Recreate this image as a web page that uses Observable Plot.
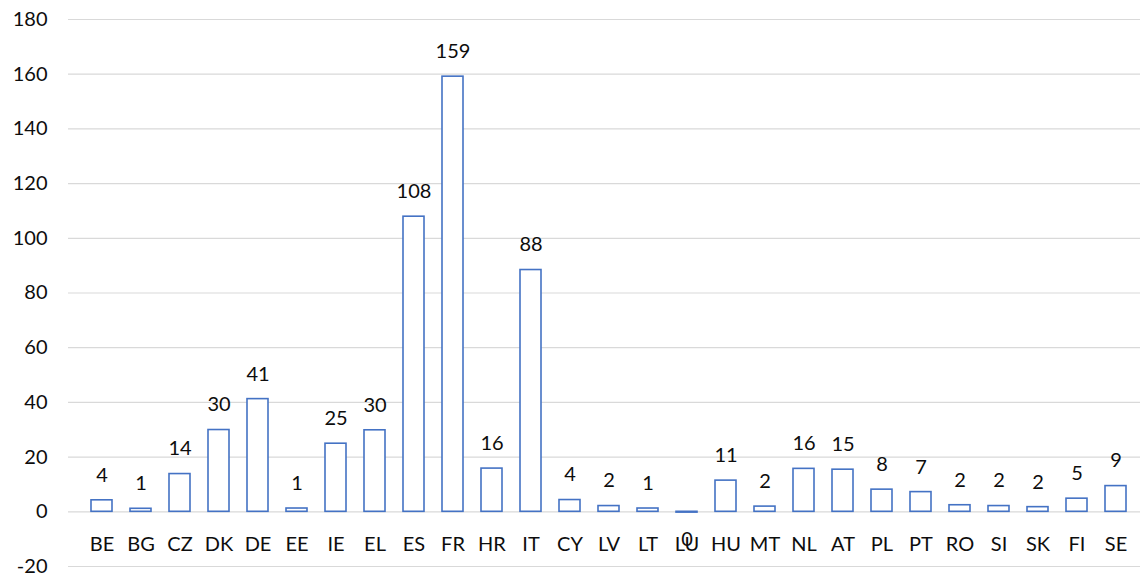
<!DOCTYPE html>
<html>
<head>
<meta charset="utf-8">
<script src="https://cdn.jsdelivr.net/npm/d3@7"></script>
<script src="https://cdn.jsdelivr.net/npm/@observablehq/plot@0.6"></script>
<style>
  html, body { margin: 0; padding: 0; background: #fff; overflow: hidden; }
  #chart { width: 1140px; height: 576px; overflow: hidden; }
</style>
</head>
<body>
<div id="chart"></div>
<script>
const countries = ["BE","BG","CZ","DK","DE","EE","IE","EL","ES","FR","HR","IT","CY","LV","LT","LU","HU","MT","NL","AT","PL","PT","RO","SI","SK","FI","SE"];
const values = [4.2, 1.1, 13.8, 29.9, 41.2, 1.2, 24.9, 29.8, 107.9, 159.1, 15.8, 88.4, 4.3, 2.1, 1.2, -0.3, 11.4, 1.9, 15.7, 15.4, 8.1, 7.2, 2.4, 2.1, 1.7, 4.8, 9.4];
const yTicks = [-20, 0, 20, 40, 60, 80, 100, 120, 140, 160, 180];

const data = countries.map((c, i) => ({
  country: c,
  value: values[i],
  label: String(Math.abs(Math.round(values[i])))
}));

const blue = "#4472C4";
const font = "Lato, 'Open Sans', sans-serif";
const ink = "#0d0d0d";

const plot = Plot.plot({
  width: 1140,
  height: 576,
  marginLeft: 68,
  marginRight: 0,
  marginTop: 19,
  marginBottom: 10,
  style: { fontFamily: font, fontSize: "20px", color: ink, background: "#fff", overflow: "hidden" },
  x: { type: "band", domain: countries, range: [68.8, 1147.5], paddingInner: 0.47, paddingOuter: 0.235, axis: null },
  y: { domain: [-20, 180], ticks: yTicks },
  marks: [
    Plot.ruleY(yTicks, { stroke: "#d9d9d9", strokeWidth: 1.2 }),
    Plot.barY(data, { x: "country", y: "value", fill: "#fff", stroke: blue, strokeWidth: 1.6 }),
    Plot.axisY(yTicks, { tickSize: 0, tickPadding: 21, label: null, fontSize: 20, tickFormat: d => String(d) }),
    Plot.text(data, { x: "country", y: 0, text: "country", dy: 33, lineAnchor: "middle", fontSize: 20, fill: ink }),
    Plot.text(data.filter(d => d.value >= 0), { x: "country", y: "value", text: "label", dy: -25, lineAnchor: "middle", fontSize: 20, fill: ink }),
    Plot.text(data.filter(d => d.value < 0), { x: "country", y: "value", text: "label", dy: 27, lineAnchor: "middle", fontSize: 20, fill: ink })
  ]
});
document.getElementById("chart").appendChild(plot);
</script>
</body>
</html>
